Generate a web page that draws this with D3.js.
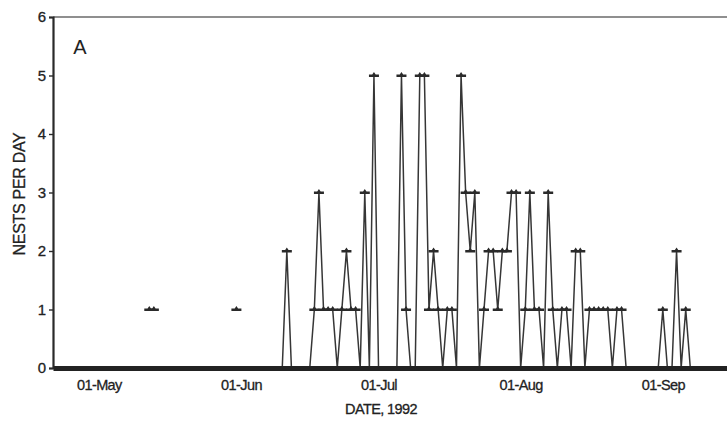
<!DOCTYPE html>
<html>
<head>
<meta charset="utf-8">
<script src="https://d3js.org/d3.v7.min.js"></script>
<style>
  body { margin: 0; background: #fff; }
  svg text { font-family: "Liberation Sans", Arial, sans-serif; fill: #222; }
</style>
</head>
<body>
<div id="chart"></div>
<script>
// nests counted per day, one value per day from 01-Jun-1992 on
var seriesStart = "1992-06-01";
var nestsPerDay = [
  0, 0, 0, 0, 0, 0, 0, 0, 0, 0,      // Jun 1-10
  2, 0, 0, 0, 0, 0, 1, 3, 1, 1,      // Jun 11-20
  1, 0, 1, 2, 1, 1, 0, 3, 0, 5,      // Jun 21-30
  0, 0, 0, 0, 0, 5, 1, 0, 0, 5,      // Jul 1-10
  5, 1, 2, 1, 0, 1, 1, 0, 5, 3,      // Jul 11-20
  2, 3, 0, 1, 2, 2, 1, 2, 2, 3, 3,   // Jul 21-31
  0, 1, 3, 1, 1, 0, 3, 1, 0, 1,      // Aug 1-10
  1, 0, 2, 2, 0, 1, 1, 1, 1, 1,      // Aug 11-20
  0, 1, 1, 0, 0, 0, 0, 0, 0, 0, 0,   // Aug 21-31
  1, 0, 0, 2, 0, 1, 0, 0, 0, 0,      // Sep 1-10
  0, 0, 0, 0, 0                      // Sep 11-15
];

// single early nests, no records on the days around them
var earlyDates = ["1992-05-12", "1992-05-13", "1992-05-31"];
var earlyNests = [1, 1, 1];

var yTicks = [0, 1, 2, 3, 4, 5, 6];
var xTickDates = ["1992-05-01", "1992-06-01", "1992-07-01", "1992-08-01", "1992-09-01"];
var xTickLabels = ["01-May", "01-Jun", "01-Jul", "01-Aug", "01-Sep"];

var width = 727, height = 424;
var margin = {top: 17, right: 0, bottom: 56, left: 53};

var parse = d3.utcParse("%Y-%m-%d");
var start = parse(seriesStart);

var series = nestsPerDay.map(function(v, i) {
  return { date: d3.utcDay.offset(start, i), value: v };
});
var early = earlyDates.map(function(d, i) {
  return { date: parse(d), value: earlyNests[i] };
});

var x = d3.scaleUtc()
  .domain([parse("1992-04-21"), parse("1992-09-15")])
  .range([margin.left, width - margin.right]);

var y = d3.scaleLinear()
  .domain([0, 6])
  .range([height - margin.bottom, margin.top]);

var svg = d3.select("#chart").append("svg")
  .attr("width", width)
  .attr("height", height);

// top frame line
svg.append("line")
  .attr("x1", margin.left).attr("x2", width)
  .attr("y1", y(6)).attr("y2", y(6))
  .attr("stroke", "#6a6a6a").attr("stroke-width", 1.6);

// daily line
var line = d3.line()
  .x(function(d) { return x(d.date); })
  .y(function(d) { return y(d.value); });

svg.append("path")
  .datum(series)
  .attr("fill", "none")
  .attr("stroke", "#363636")
  .attr("stroke-width", 1.5)
  .attr("d", line);

// point markers (small capped bars), the zero ones sink into the base line
var marker = "M-5,1.4L5,1.4L5,-1L1.7,-1L0,-3.4L-1.7,-1L-5,-1Z";

svg.append("g").selectAll("path")
  .data(series.concat(early).filter(function(d) { return d.value > 0; }))
  .enter().append("path")
  .attr("d", marker)
  .attr("fill", "#2a2a2a")
  .attr("transform", function(d) {
    return "translate(" + x(d.date) + "," + y(d.value) + ")";
  });

// y axis
var yAxis = svg.append("g")
  .attr("transform", "translate(" + margin.left + ",0)")
  .call(d3.axisLeft(y).tickValues(yTicks).tickFormat(d3.format("d")).tickSize(4).tickPadding(3));
yAxis.select(".domain").attr("stroke", "#2a2a2a").attr("stroke-width", 2.2);
yAxis.selectAll(".tick line").attr("stroke", "#2a2a2a").attr("stroke-width", 1.4);
yAxis.selectAll(".tick text")
  .style("font-family", "Liberation Sans, Arial, sans-serif")
  .attr("font-size", 15).attr("fill", "#222")
  .attr("stroke", "#222").attr("stroke-width", 0.3);

// x axis, drawn as the thick base line
var xAxis = svg.append("g")
  .attr("transform", "translate(0," + y(0) + ")")
  .call(d3.axisBottom(x)
    .tickValues(xTickDates.map(parse))
    .tickFormat(function(d, i) { return xTickLabels[i]; })
    .tickSize(0).tickPadding(12));
xAxis.select(".domain").attr("stroke", "#222").attr("stroke-width", 5);
xAxis.selectAll(".tick text")
  .style("font-family", "Liberation Sans, Arial, sans-serif")
  .attr("font-size", 14.5).attr("letter-spacing", -0.6).attr("fill", "#222")
  .attr("stroke", "#222").attr("stroke-width", 0.3);

// labels
svg.append("text")
  .attr("x", 80).attr("y", 54)
  .attr("text-anchor", "middle")
  .attr("font-size", 20)
  .text("A");

svg.append("text")
  .attr("x", 381).attr("y", 414)
  .attr("text-anchor", "middle")
  .attr("font-size", 14.5)
  .attr("letter-spacing", -0.6)
  .attr("stroke", "#222").attr("stroke-width", 0.3)
  .text("DATE, 1992");

svg.append("text")
  .attr("transform", "translate(25,194) rotate(-90)")
  .attr("text-anchor", "middle")
  .attr("font-size", 16)
  .attr("letter-spacing", -0.3)
  .attr("stroke", "#222").attr("stroke-width", 0.3)
  .text("NESTS PER DAY");
</script>
</body>
</html>
